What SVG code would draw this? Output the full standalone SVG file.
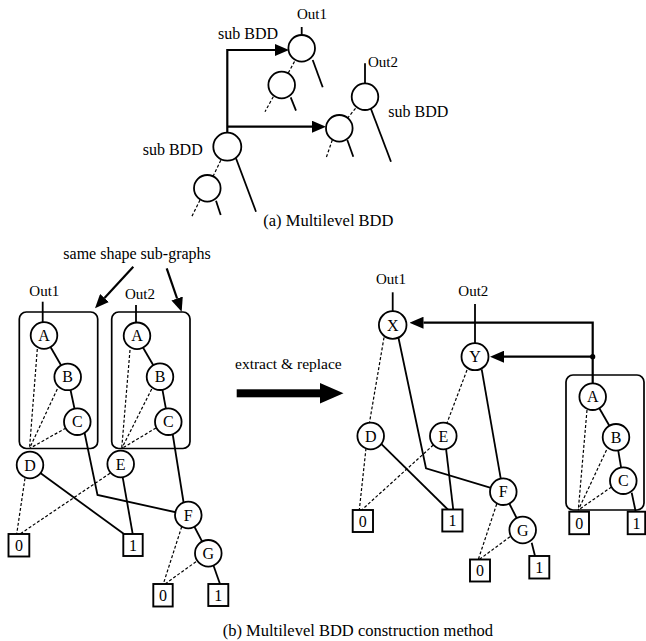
<svg xmlns="http://www.w3.org/2000/svg" width="646" height="641" viewBox="0 0 646 641">
<style>
text{font-family:"Liberation Serif","Times New Roman",serif;fill:#000}
.lbl{font-size:16px}
.cap{font-size:16.5px}
.out{font-size:15px}
.nt{font-size:16px;text-anchor:middle}
.n{fill:#fff;stroke:#000;stroke-width:1.8}
.t{fill:#fff;stroke:#000;stroke-width:1.9}
.s{fill:none;stroke:#000;stroke-width:1.8}
.d{fill:none;stroke:#000;stroke-width:1.2;stroke-dasharray:3 2}
.a{fill:none;stroke:#000;stroke-width:2.2;marker-end:url(#ah)}
.box{fill:none;stroke:#000;stroke-width:1.7}
</style>
<defs>
<marker id="ah" viewBox="0 0 14 12" refX="0" refY="6" markerWidth="14" markerHeight="12" markerUnits="userSpaceOnUse" orient="auto">
<path d="M0,0 L14,6 L0,12 z" fill="#000"/>
</marker>
</defs>

<!-- (a) -->
<g id="connectors-a">
<path class="a" d="M227.3,133 V50 H275"/>
<path class="a" d="M227.3,126.7 H312"/>
<line class="s" x1="301.7" y1="27" x2="301.7" y2="35"/>
<line class="s" x1="312.7" y1="60" x2="322.7" y2="87.3"/>
<line class="d" x1="301.7" y1="48.3" x2="281.7" y2="85"/>
<line class="d" x1="273.3" y1="96.7" x2="265" y2="111.7"/>
<line class="s" x1="290.7" y1="97.3" x2="296" y2="110.7"/>
<line class="s" x1="236" y1="158.3" x2="256" y2="211.7"/>
<line class="d" x1="227.3" y1="146.7" x2="207.3" y2="188.3"/>
<line class="d" x1="200" y1="200" x2="191.7" y2="216.7"/>
<line class="s" x1="216" y1="200.7" x2="220.7" y2="215"/>
<line class="s" x1="365" y1="63.3" x2="365" y2="83.3"/>
<line class="s" x1="370.7" y1="108.3" x2="391" y2="161.7"/>
<line class="d" x1="365" y1="96.7" x2="339.3" y2="128.3"/>
<line class="d" x1="332.3" y1="140" x2="326" y2="158.3"/>
<line class="s" x1="347.3" y1="140" x2="353.3" y2="156.7"/>
</g>
<g id="a-n1"><circle class="n" cx="301.7" cy="48.3" r="13.3"/></g>
<g id="a-n2"><circle class="n" cx="281.7" cy="85" r="13.3"/></g>
<g id="a-n3"><circle class="n" cx="227.3" cy="146.7" r="14"/></g>
<g id="a-n4"><circle class="n" cx="207.3" cy="188.3" r="13.3"/></g>
<g id="a-n5"><circle class="n" cx="365" cy="96.7" r="13.3"/></g>
<g id="a-n6"><circle class="n" cx="339.3" cy="128.3" r="13.3"/></g>
<g id="a-labels">
<text class="out" x="297" y="19">Out1</text>
<text class="out" x="368" y="66.5">Out2</text>
<text class="lbl" x="218" y="39">sub BDD</text>
<text class="lbl" x="388.3" y="116.5">sub BDD</text>
<text class="lbl" x="142.7" y="155">sub BDD</text>
<text class="cap" x="263.3" y="226">(a) Multilevel BDD</text>
</g>

<!-- (b) left -->
<g id="connectors-b-left">
<line class="s" x1="42.7" y1="301.7" x2="42.7" y2="322"/>
<line class="s" x1="136" y1="305" x2="136" y2="323"/>
<line class="s" x1="44" y1="335.7" x2="67.7" y2="376.7"/>
<line class="s" x1="67.7" y1="376.7" x2="77.3" y2="421.7"/>
<line class="s" x1="136.7" y1="336.7" x2="160" y2="376.7"/>
<line class="s" x1="160" y1="376.7" x2="168.3" y2="421.7"/>
<line class="d" x1="37.3" y1="349" x2="29.5" y2="448.5"/>
<line class="d" x1="57.3" y1="389" x2="29.5" y2="448.5"/>
<line class="d" x1="66" y1="428" x2="29.5" y2="448.5"/>
<line class="d" x1="130" y1="350" x2="121.7" y2="448.5"/>
<line class="d" x1="151.7" y1="389" x2="121.7" y2="448.5"/>
<line class="d" x1="156" y1="428" x2="121.7" y2="448.5"/>
<polyline class="s" points="84.5,432.5 97.5,495 188.3,515"/>
<line class="s" x1="172.5" y1="433" x2="183.5" y2="502"/>
<line class="d" x1="25" y1="478.3" x2="16.7" y2="534"/>
<line class="s" x1="40.7" y1="473.3" x2="124" y2="534"/>
<line class="d" x1="110" y1="473.3" x2="20" y2="534"/>
<line class="s" x1="122.7" y1="477.3" x2="132.7" y2="534"/>
<line class="s" x1="188.3" y1="515" x2="208.3" y2="553.3"/>
<line class="d" x1="181.7" y1="526.7" x2="163.3" y2="584"/>
<line class="d" x1="196" y1="561.7" x2="165" y2="584"/>
<line class="s" x1="213.3" y1="565" x2="220" y2="584"/>
<line class="a" x1="133.3" y1="266.7" x2="104.5" y2="298"/>
<line class="a" x1="166.7" y1="268.3" x2="177.1" y2="298.5"/>
</g>
<rect class="box" x="19.3" y="312" width="78.4" height="136.5" rx="7"/>
<rect class="box" x="111.7" y="312" width="78.3" height="136.5" rx="7"/>
<g id="bl-A1"><circle class="n" cx="44" cy="335.5" r="13.3"/><text class="nt" x="44" y="341">A</text></g>
<g id="bl-B1"><circle class="n" cx="67.7" cy="376.9" r="13.3"/><text class="nt" x="67.7" y="382.4">B</text></g>
<g id="bl-C1"><circle class="n" cx="77.3" cy="421.7" r="13.3"/><text class="nt" x="77.3" y="427.2">C</text></g>
<g id="bl-A2"><circle class="n" cx="137" cy="335.8" r="13.3"/><text class="nt" x="137" y="341.3">A</text></g>
<g id="bl-B2"><circle class="n" cx="160" cy="376.7" r="13.3"/><text class="nt" x="160" y="382.2">B</text></g>
<g id="bl-C2"><circle class="n" cx="168.3" cy="421.7" r="13.3"/><text class="nt" x="168.3" y="427.2">C</text></g>
<g id="bl-D"><circle class="n" cx="30" cy="465" r="13.3"/><text class="nt" x="30" y="470.5">D</text></g>
<g id="bl-E"><circle class="n" cx="120.7" cy="464" r="13.3"/><text class="nt" x="120.7" y="469.5">E</text></g>
<g id="bl-F"><circle class="n" cx="188.3" cy="515" r="13.3"/><text class="nt" x="188.3" y="520.5">F</text></g>
<g id="bl-G"><circle class="n" cx="208.3" cy="553.3" r="13.3"/><text class="nt" x="208.3" y="558.8">G</text></g>
<g id="bl-t0a"><rect class="t" x="8.5" y="534" width="20.8" height="22.5"/><text class="nt" x="18.9" y="550.8">0</text></g>
<g id="bl-t1a"><rect class="t" x="123.3" y="534" width="19.4" height="22"/><text class="nt" x="133" y="550.6">1</text></g>
<g id="bl-t0b"><rect class="t" x="153.3" y="584" width="19.4" height="22.5"/><text class="nt" x="163" y="600.8">0</text></g>
<g id="bl-t1b"><rect class="t" x="208.3" y="584" width="20" height="22"/><text class="nt" x="218.3" y="600.6">1</text></g>
<g id="b-left-labels">
<text class="lbl" x="63.3" y="259.3">same shape sub-graphs</text>
<text class="out" x="29.3" y="296">Out1</text>
<text class="out" x="125" y="299.3">Out2</text>
</g>

<!-- big arrow -->
<g id="big-arrow">
<rect x="236.7" y="389.3" width="84" height="8" fill="#000"/>
<polygon points="320,383 343.5,393.3 320,403.6" fill="#000"/>
<text x="235" y="369.3" style="font-size:15.5px">extract &amp; replace</text>
</g>

<!-- (b) right -->
<g id="connectors-b-right">
<line class="s" x1="392.7" y1="292.3" x2="392.7" y2="312"/>
<line class="s" x1="475" y1="304" x2="475" y2="343.5"/>
<path class="a" d="M592.7,383.3 V322.7 H423.5"/>
<path class="a" d="M592.7,356.7 H504"/>
<line class="d" x1="384" y1="337.5" x2="369.5" y2="422.5"/>
<polyline class="s" points="398.3,337 426,468.3 503.3,491.7"/>
<line class="d" x1="467" y1="370" x2="447" y2="423"/>
<line class="s" x1="481.7" y1="369.3" x2="500.7" y2="478.3"/>
<line class="d" x1="366" y1="448.3" x2="359.3" y2="510"/>
<line class="s" x1="380.7" y1="443.3" x2="448.3" y2="510"/>
<line class="d" x1="433.3" y1="445" x2="361.7" y2="510"/>
<line class="s" x1="446" y1="448.3" x2="453.3" y2="510"/>
<line class="s" x1="503.3" y1="491.7" x2="522.7" y2="530"/>
<line class="d" x1="496.7" y1="504" x2="478.3" y2="559.5"/>
<line class="d" x1="510" y1="536.7" x2="479.3" y2="559.5"/>
<line class="s" x1="531.7" y1="542.7" x2="535" y2="556"/>
<line class="s" x1="592.7" y1="396.7" x2="616" y2="437.3"/>
<line class="s" x1="616" y1="437.3" x2="623.3" y2="480.7"/>
<line class="s" x1="631.7" y1="492.7" x2="635.7" y2="511.7"/>
<line class="d" x1="587" y1="410" x2="578.3" y2="510"/>
<line class="d" x1="606.5" y1="450" x2="578.3" y2="510"/>
<line class="d" x1="611.5" y1="487" x2="578.3" y2="510"/>
</g>
<circle cx="592.7" cy="356.7" r="2.6" fill="#000"/>
<rect class="box" x="566" y="375" width="78" height="135" rx="7"/>
<g id="br-X"><circle class="n" cx="392.7" cy="325" r="13.8"/><text class="nt" x="392.7" y="330.5">X</text></g>
<g id="br-Y"><circle class="n" cx="475" cy="356.7" r="13.5"/><text class="nt" x="475" y="362.2">Y</text></g>
<g id="br-D"><circle class="n" cx="370.7" cy="436" r="13.3"/><text class="nt" x="370.7" y="441.5">D</text></g>
<g id="br-E"><circle class="n" cx="443.3" cy="436" r="13.3"/><text class="nt" x="443.3" y="441.5">E</text></g>
<g id="br-F"><circle class="n" cx="503.3" cy="491.7" r="13.3"/><text class="nt" x="503.3" y="497.2">F</text></g>
<g id="br-G"><circle class="n" cx="522.7" cy="530" r="13.3"/><text class="nt" x="522.7" y="535.5">G</text></g>
<g id="br-A"><circle class="n" cx="592.7" cy="396.7" r="13.3"/><text class="nt" x="592.7" y="402.2">A</text></g>
<g id="br-B"><circle class="n" cx="616" cy="437.3" r="13.3"/><text class="nt" x="616" y="442.8">B</text></g>
<g id="br-C"><circle class="n" cx="623.3" cy="480.7" r="13.3"/><text class="nt" x="623.3" y="486.2">C</text></g>
<g id="br-t0a"><rect class="t" x="352.7" y="510" width="20.3" height="22"/><text class="nt" x="362.8" y="526.6">0</text></g>
<g id="br-t1a"><rect class="t" x="442.3" y="509.5" width="20.2" height="22"/><text class="nt" x="452.4" y="526.1">1</text></g>
<g id="br-t0b"><rect class="t" x="470" y="559.5" width="20" height="22"/><text class="nt" x="480" y="576.1">0</text></g>
<g id="br-t1b"><rect class="t" x="529.3" y="556" width="20" height="22.5"/><text class="nt" x="539.3" y="572.8">1</text></g>
<g id="br-t0c"><rect class="t" x="569.3" y="511.7" width="19.7" height="22.5"/><text class="nt" x="579.2" y="528.5">0</text></g>
<g id="br-t1c"><rect class="t" x="627.7" y="511.7" width="17.5" height="22.5"/><text class="nt" x="636.5" y="528.5">1</text></g>
<g id="b-right-labels">
<text class="out" x="376" y="284">Out1</text>
<text class="out" x="458.3" y="296">Out2</text>
<text class="cap" x="222.7" y="635.5">(b) Multilevel BDD construction method</text>
</g>
</svg>
